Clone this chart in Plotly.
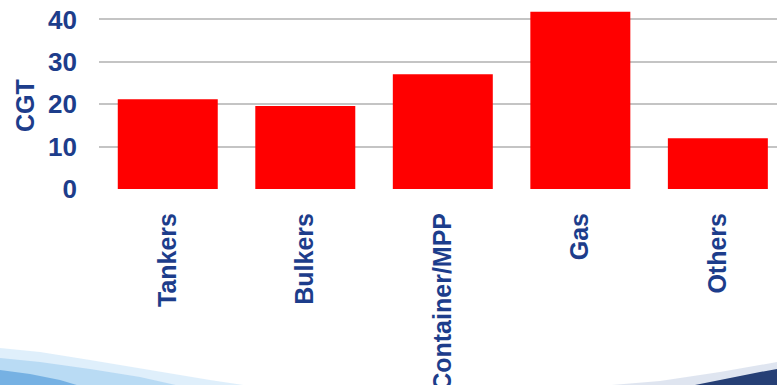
import plotly.graph_objects as go

# Ship type order book (CGT)
categories = ["Tankers", "Bulkers", "Container/MPP", "Gas", "Others"]
cgt_values = [21.2, 19.6, 27.1, 41.8, 12.0]
y_ticks = [0, 10, 20, 30, 40]

TEXT_BLUE = "#1d3d8b"
FONT = "Liberation Sans"

W, H = 777, 385
ML, MB = 99, 196
PLOT_W, PLOT_H = W - ML, H - MB


def px(x, y):
    """Convert page pixel coordinates to paper coordinates."""
    return (x - ML) / PLOT_W, (PLOT_H - y) / PLOT_H


def swoosh(points, fill):
    cmds = []
    for i, (x, y) in enumerate(points):
        u, v = px(x, y)
        cmds.append(("M" if i == 0 else "L") + f" {u:.4f} {v:.4f}")
    return dict(type="path", xref="paper", yref="paper", layer="below",
                line=dict(width=0), fillcolor=fill, path=" ".join(cmds) + " Z")


fig = go.Figure()
fig.add_trace(go.Bar(
    x=categories,
    y=cgt_values,
    marker=dict(color="#ff0000", line=dict(width=0)),
))

# decorative swoosh along the bottom edge
shapes = [
    swoosh([(0, 348), (40, 352), (90, 360), (150, 370), (210, 380), (250, 386), (0, 386)],
           "rgba(215,235,250,0.8)"),
    swoosh([(0, 358), (40, 362), (90, 369), (140, 377), (180, 386), (0, 386)],
           "rgba(160,205,240,0.6)"),
    swoosh([(0, 370), (30, 374), (60, 380), (80, 386), (0, 386)],
           "rgba(90,160,220,0.7)"),
    swoosh([(600, 386), (660, 381), (720, 372), (777, 362), (777, 386)],
           "rgba(215,222,236,0.8)"),
    swoosh([(690, 386), (730, 378), (760, 372), (777, 369), (777, 386)],
           "#263f75"),
]

title_x, title_y = px(25, 106)

fig.update_layout(
    width=W,
    height=H,
    margin=dict(l=ML, r=0, t=0, b=MB, autoexpand=False),
    paper_bgcolor="white",
    plot_bgcolor="white",
    bargap=0.273,
    showlegend=False,
    font=dict(family=FONT, color=TEXT_BLUE),
    shapes=shapes,
    annotations=[dict(
        text="<b>CGT</b>", xref="paper", yref="paper", x=title_x, y=title_y,
        textangle=-90, showarrow=False, xanchor="center", yanchor="middle",
        font=dict(family=FONT, size=25, color=TEXT_BLUE),
    )],
    xaxis=dict(
        range=[-0.5, 4.43],
        tickangle=-90,
        tickvals=categories,
        ticktext=[f"<b>{c}</b>" for c in categories],
        tickfont=dict(family=FONT, size=25, color=TEXT_BLUE),
        ticklabelstandoff=18,
        showgrid=False,
        showline=False,
        zeroline=False,
        ticks="",
        automargin=False,
    ),
    yaxis=dict(
        range=[0, 44.6],
        tickvals=y_ticks,
        ticktext=[f"<b>{v}</b>" for v in y_ticks],
        tickfont=dict(family=FONT, size=26, color=TEXT_BLUE),
        ticklabelstandoff=21,
        showgrid=True,
        gridcolor="#c4c4c4",
        gridwidth=2,
        zeroline=False,
        showline=False,
        ticks="",
        automargin=False,
    ),
)

fig.write_html("out.html")
